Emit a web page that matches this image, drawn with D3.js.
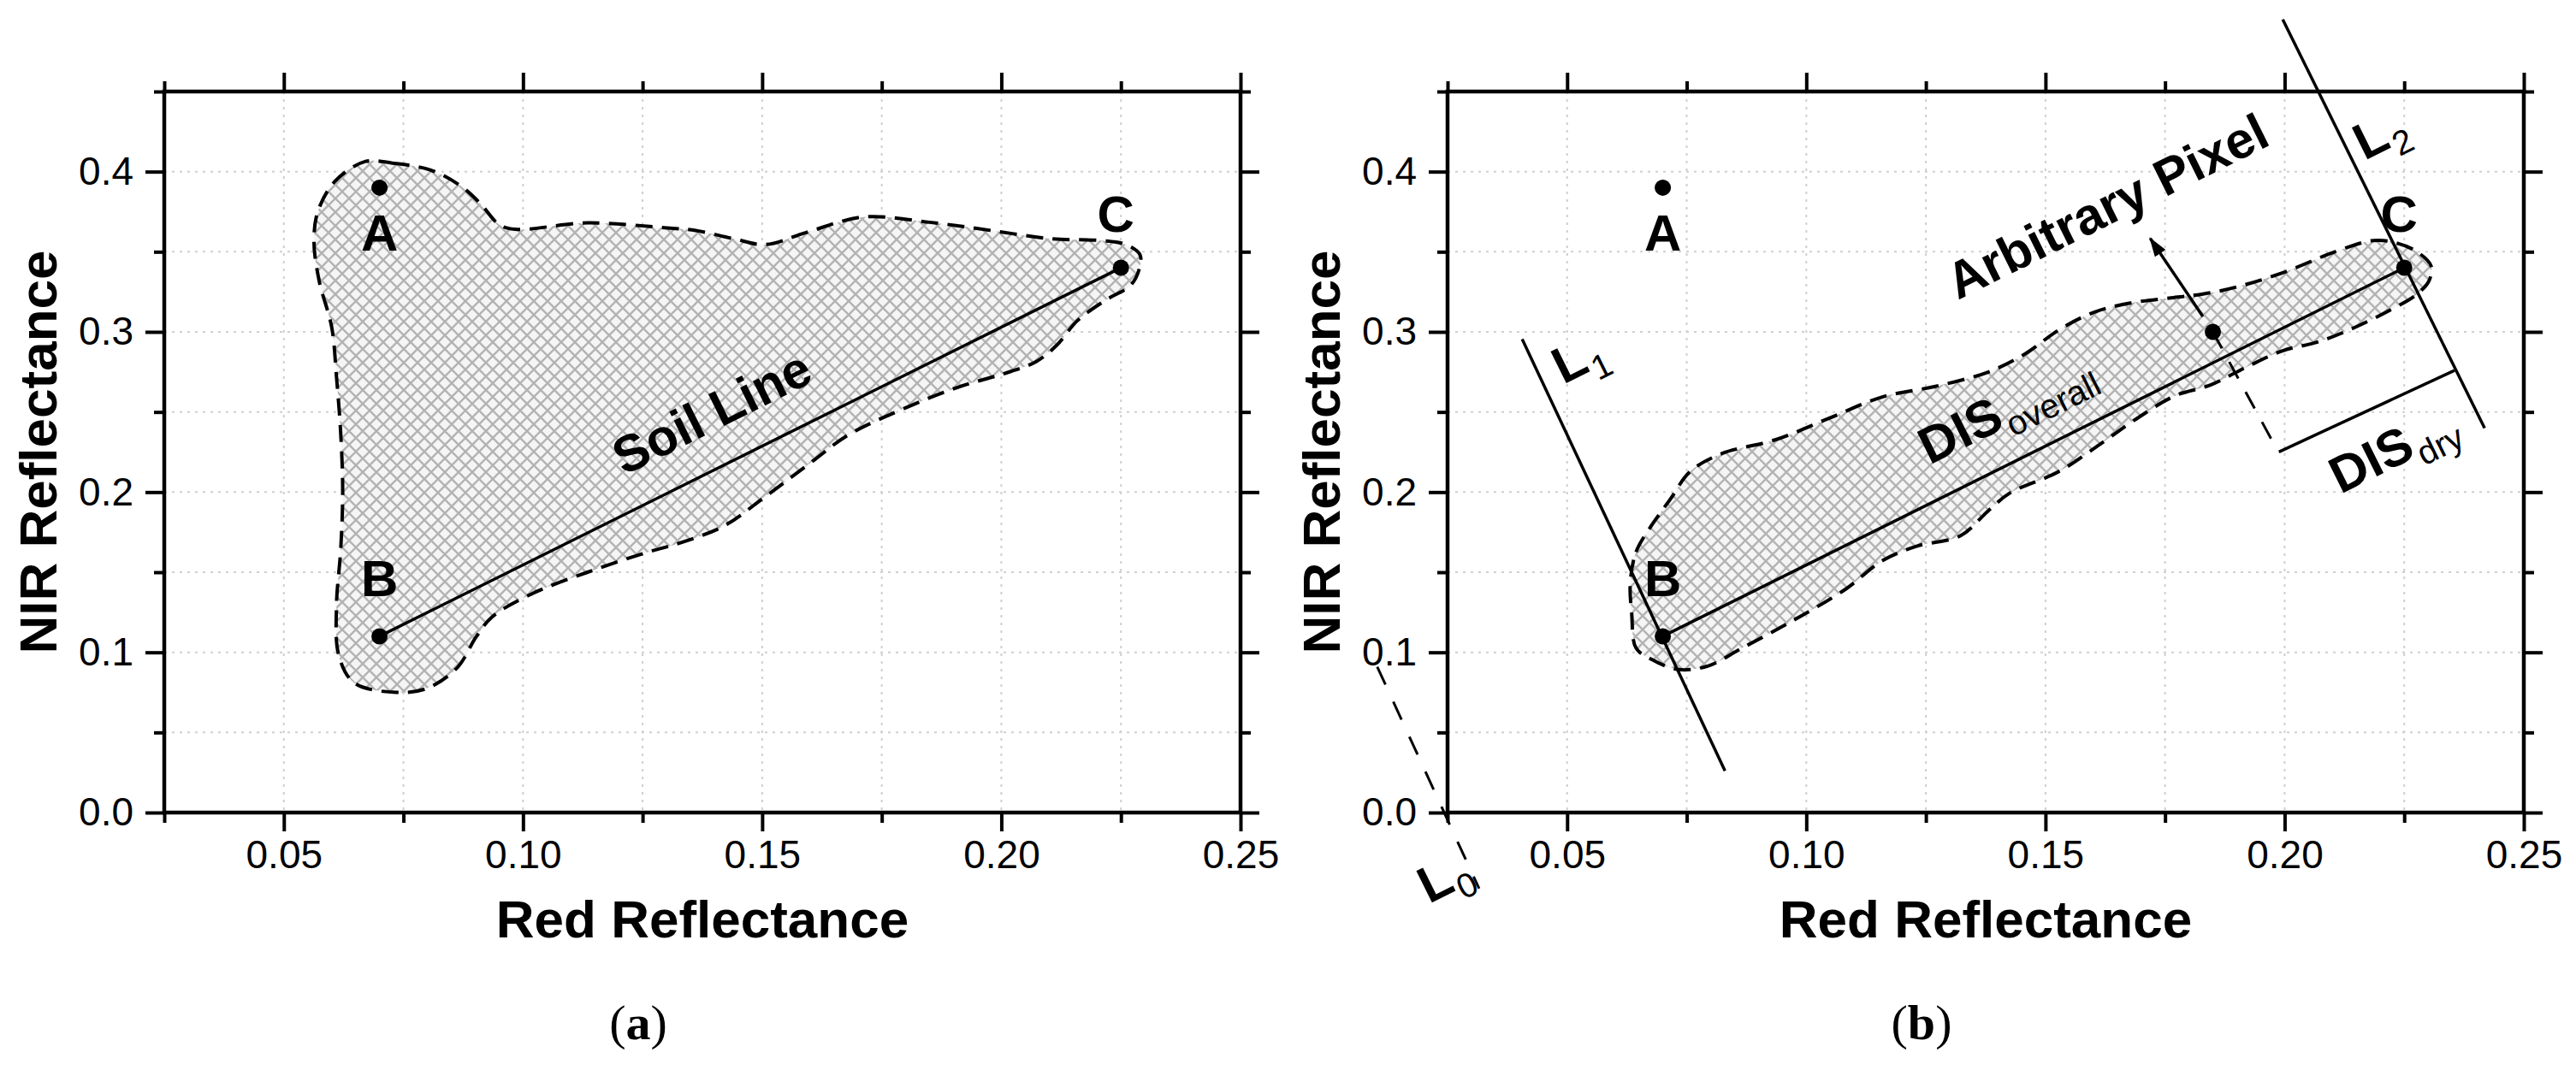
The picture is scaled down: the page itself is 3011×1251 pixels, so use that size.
<!DOCTYPE html>
<html>
<head>
<meta charset="utf-8">
<script src="https://cdn.jsdelivr.net/npm/d3@7"></script>
<style>
  body { margin: 0; background: #fff; }
  text { font-family: "Liberation Sans", Arial, Helvetica, sans-serif; fill: #000; }
</style>
</head>
<body>
<svg id="chart" width="3011" height="1251"></svg>
<script>
// values (Red reflectance, NIR reflectance)
const xMajorTicks = [0.05, 0.10, 0.15, 0.20, 0.25];
const xMinorTicks = [0.025, 0.075, 0.125, 0.175, 0.225];
const yMajorTicks = [0.0, 0.1, 0.2, 0.3, 0.4];
const yMinorTicks = [0.05, 0.15, 0.25, 0.35, 0.45];
const xGridValues = [0.05, 0.075, 0.10, 0.125, 0.15, 0.175, 0.20, 0.225];
const yGridValues = [0.05, 0.10, 0.15, 0.20, 0.25, 0.30, 0.35, 0.40];

const pointA = [0.07, 0.39];
const pointB = [0.07, 0.11];
const pointC = [0.225, 0.34];
const arbitraryPixel = [0.185, 0.30];

// outline of the pixel cloud in (a)
const regionA = [
    [0.0671, 0.4064], [0.0727, 0.4053], [0.0807, 0.4010], [0.0870, 0.3910], [0.0911, 0.3800],
    [0.0950, 0.3670], [0.0983, 0.3640], [0.1135, 0.3680], [0.1295, 0.3650], [0.1361, 0.3633],
    [0.1438, 0.3583], [0.1507, 0.3545], [0.1592, 0.3620], [0.1712, 0.3717], [0.1850, 0.3684],
    [0.1978, 0.3633], [0.2107, 0.3580], [0.2210, 0.3570], [0.2260, 0.3545], [0.2290, 0.3480],
    [0.2288, 0.3390], [0.2270, 0.3290], [0.2218, 0.3198], [0.2159, 0.3070], [0.2116, 0.2917],
    [0.2073, 0.2815], [0.2004, 0.2738], [0.1918, 0.2663], [0.1807, 0.2535], [0.1678, 0.2353],
    [0.1610, 0.2203], [0.1507, 0.1973], [0.1421, 0.1790], [0.1336, 0.1690], [0.1255, 0.1620],
    [0.1135, 0.1500], [0.1015, 0.1360], [0.0935, 0.1220], [0.0902, 0.1096], [0.0863, 0.0906],
    [0.0799, 0.0775], [0.0735, 0.0750], [0.0647, 0.0810], [0.0615, 0.0980], [0.0610, 0.1290],
    [0.0619, 0.1647], [0.0623, 0.2005], [0.0619, 0.2360], [0.0610, 0.2720], [0.0600, 0.3030],
    [0.0574, 0.3316], [0.0563, 0.3560], [0.0571, 0.3750], [0.0607, 0.3940]
];

// outline of the pixel cloud in (b)
const regionB = [
    [0.0632, 0.1433], [0.0644, 0.1626], [0.0676, 0.1790], [0.0716, 0.1957], [0.0757, 0.2128],
    [0.0823, 0.2240], [0.0935, 0.2326], [0.1047, 0.2460], [0.1159, 0.2594], [0.1270, 0.2660],
    [0.1380, 0.2749], [0.1456, 0.2860], [0.1530, 0.3016], [0.1604, 0.3125], [0.1678, 0.3180],
    [0.1767, 0.3214], [0.1827, 0.3235], [0.1897, 0.3278], [0.1996, 0.3369], [0.2108, 0.3503],
    [0.2185, 0.3570], [0.2230, 0.3558], [0.2275, 0.3503], [0.2306, 0.3412], [0.2302, 0.3320],
    [0.2275, 0.3231], [0.2223, 0.3140], [0.2147, 0.3028], [0.2071, 0.2938], [0.1996, 0.2882],
    [0.1920, 0.2780], [0.1845, 0.2668], [0.1770, 0.2600], [0.1694, 0.2465], [0.1618, 0.2307],
    [0.1528, 0.2128], [0.1425, 0.1993], [0.1380, 0.1882], [0.1322, 0.1727], [0.1232, 0.1663],
    [0.1159, 0.1572], [0.1083, 0.1396], [0.0972, 0.1198], [0.0861, 0.1019], [0.0795, 0.0915],
    [0.0732, 0.0893], [0.0676, 0.0957], [0.0644, 0.1027], [0.0635, 0.1240]
];

const lineL0 = [[0.0103, 0.091], [0.0316, -0.0475]];
const lineL1 = [[0.0406, 0.2955], [0.0830, 0.026]];
const lineL2 = [[0.1996, 0.495], [0.2418, 0.240]];
const pixelDrop = [[0.185, 0.30], [0.1985, 0.226]];
const disDryLine = [[0.1988, 0.2251], [0.2355, 0.2759]];
const pixelArrow = [[0.1829, 0.3096], [0.1719, 0.3583]];

// rotated annotations (anchor = start of baseline, in data units)
const annotationsA = [
    { pos: [0.1211, 0.2102], main: 'Soil Line', sub: '' }
];
const annotationsB = [
    { pos: [0.1317, 0.3198], main: 'Arbitrary Pixel', sub: '' },
    { pos: [0.1258, 0.2168], main: 'DIS', sub: 'overall' },
    { pos: [0.2117, 0.1986], main: 'DIS', sub: 'dry' },
    { pos: [0.0492, 0.2670], main: 'L', sub: '1' },
    { pos: [0.2167, 0.4068], main: 'L', sub: '2' },
    { pos: [0.0211, -0.0571], main: 'L', sub: '0' }
];

document.addEventListener("DOMContentLoaded", () => {
    const svg = d3.select('#chart');
    svg.append('rect').attr('width', 3011).attr('height', 1251).attr('fill', '#fff');

    const defs = svg.append('defs');
    const hatch = defs.append('pattern')
        .attr('id', 'hatch')
        .attr('patternUnits', 'userSpaceOnUse')
        .attr('width', 16)
        .attr('height', 16);
    hatch.append('rect').attr('width', 16).attr('height', 16).attr('fill', '#f5f5f5');
    hatch.append('path')
        .attr('d', 'M-2,-2L18,18M18,-2L-2,18')
        .attr('stroke', '#b3b3b3')
        .attr('stroke-width', 2.4);

    defs.append('marker')
        .attr('id', 'arrowhead')
        .attr('viewBox', '0 0 23 15')
        .attr('refX', 21)
        .attr('refY', 7.5)
        .attr('markerWidth', 23)
        .attr('markerHeight', 15)
        .attr('markerUnits', 'userSpaceOnUse')
        .attr('orient', 'auto')
        .append('path')
        .attr('d', 'M0,0L23,7.5L0,15z')
        .attr('fill', '#000');

    const plotW = 1258, top = 107, bottom = 950;

    function drawPanel(left, region, annotations, caption) {
        const g = svg.append('g');
        const x = d3.scaleLinear().domain([0.025, 0.25]).range([left, left + plotW]);
        const y = d3.scaleLinear().domain([0, 0.45]).range([bottom, top]);

        // dotted grid
        g.selectAll('.vgrid').data(xGridValues).join('line')
            .attr('x1', d => x(d)).attr('x2', d => x(d))
            .attr('y1', top).attr('y2', bottom)
            .attr('stroke', '#cfcfcf').attr('stroke-width', 2).attr('stroke-dasharray', '3,6');
        g.selectAll('.hgrid').data(yGridValues).join('line')
            .attr('x1', left).attr('x2', left + plotW)
            .attr('y1', d => y(d)).attr('y2', d => y(d))
            .attr('stroke', '#cfcfcf').attr('stroke-width', 2).attr('stroke-dasharray', '3,6');

        // pixel cloud
        const closed = d3.line().x(d => x(d[0])).y(d => y(d[1])).curve(d3.curveCatmullRomClosed.alpha(0.5));
        g.append('path')
            .datum(region)
            .attr('d', closed)
            .attr('fill', 'url(#hatch)')
            .attr('stroke', '#000')
            .attr('stroke-width', 4)
            .attr('stroke-dasharray', '20,11');

        const seg = d3.line().x(d => x(d[0])).y(d => y(d[1]));

        // soil line B -> C
        g.append('path').datum([pointB, pointC]).attr('d', seg)
            .attr('stroke', '#000').attr('stroke-width', 3.5).attr('fill', 'none');

        const angle = Math.atan2(y(pointC[1]) - y(pointB[1]), x(pointC[0]) - x(pointB[0])) * 180 / Math.PI;

        // axes
        const styleAxis = sel => {
            sel.select('.domain').remove();
            sel.selectAll('.tick line').attr('stroke', '#000').attr('stroke-width', 4);
            sel.selectAll('.tick text')
                .style('font-family', '"Liberation Sans", Arial, sans-serif')
                .attr('font-size', 46)
                .attr('fill', '#000');
        };
        g.append('g').attr('transform', `translate(0,${bottom})`)
            .call(d3.axisBottom(x).tickValues(xMajorTicks).tickSize(22).tickPadding(10).tickFormat(d3.format('.2f')))
            .call(styleAxis);
        g.append('g').attr('transform', `translate(0,${bottom})`)
            .call(d3.axisBottom(x).tickValues(xMinorTicks).tickSize(12).tickFormat(''))
            .call(styleAxis);
        g.append('g').attr('transform', `translate(0,${top})`)
            .call(d3.axisTop(x).tickValues(xMajorTicks).tickSize(22).tickFormat(''))
            .call(styleAxis);
        g.append('g').attr('transform', `translate(0,${top})`)
            .call(d3.axisTop(x).tickValues(xMinorTicks).tickSize(12).tickFormat(''))
            .call(styleAxis);
        g.append('g').attr('transform', `translate(${left},0)`)
            .call(d3.axisLeft(y).tickValues(yMajorTicks).tickSize(22).tickPadding(14).tickFormat(d3.format('.1f')))
            .call(styleAxis);
        g.append('g').attr('transform', `translate(${left},0)`)
            .call(d3.axisLeft(y).tickValues(yMinorTicks).tickSize(12).tickFormat(''))
            .call(styleAxis);
        g.append('g').attr('transform', `translate(${left + plotW},0)`)
            .call(d3.axisRight(y).tickValues(yMajorTicks).tickSize(22).tickFormat(''))
            .call(styleAxis);
        g.append('g').attr('transform', `translate(${left + plotW},0)`)
            .call(d3.axisRight(y).tickValues(yMinorTicks).tickSize(12).tickFormat(''))
            .call(styleAxis);

        g.append('rect')
            .attr('x', left).attr('y', top)
            .attr('width', plotW).attr('height', bottom - top)
            .attr('fill', 'none').attr('stroke', '#000').attr('stroke-width', 4.5);

        // axis titles
        g.append('text')
            .attr('x', left + plotW / 2)
            .attr('y', 1096)
            .attr('text-anchor', 'middle')
            .attr('font-size', 62)
            .attr('font-weight', 'bold')
            .text('Red Reflectance');
        g.append('text')
            .attr('transform', `translate(${left - 126},${(top + bottom) / 2}) rotate(-90)`)
            .attr('text-anchor', 'middle')
            .attr('font-size', 62)
            .attr('font-weight', 'bold')
            .text('NIR Reflectance');

        // caption
        const cap = g.append('text')
            .attr('x', left + plotW / 2 - 75)
            .attr('y', 1215)
            .attr('text-anchor', 'middle')
            .attr('font-size', 58)
            .style('font-family', '"Liberation Serif", "Times New Roman", serif');
        cap.append('tspan').text('(');
        cap.append('tspan').attr('font-weight', 'bold').text(caption);
        cap.append('tspan').text(')');

        // labelled points
        const pts = [
            { p: pointA, label: 'A', dx: 0, dy: 74 },
            { p: pointB, label: 'B', dx: 0, dy: -47 },
            { p: pointC, label: 'C', dx: -6, dy: -42 }
        ];
        g.selectAll('.pt').data(pts).join('circle')
            .attr('cx', d => x(d.p[0])).attr('cy', d => y(d.p[1]))
            .attr('r', 9.5).attr('fill', '#000');
        g.selectAll('.ptlabel').data(pts).join('text')
            .attr('x', d => x(d.p[0]) + d.dx)
            .attr('y', d => y(d.p[1]) + d.dy)
            .attr('text-anchor', 'middle')
            .attr('font-size', 60)
            .attr('font-weight', 'bold')
            .text(d => d.label);

        // rotated annotations
        annotations.forEach(a => {
            const t = g.append('text')
                .attr('transform', `translate(${x(a.pos[0])},${y(a.pos[1])}) rotate(${angle})`)
                .attr('font-size', 60)
                .attr('font-weight', 'bold');
            t.append('tspan').text(a.main);
            if (a.sub) {
                t.append('tspan')
                    .attr('dy', 14)
                    .attr('dx', 2)
                    .attr('font-size', 40)
                    .attr('font-weight', 'normal')
                    .text(a.sub);
            }
        });

        return { g, x, y, seg };
    }

    drawPanel(192, regionA, annotationsA, 'a');
    const pb = drawPanel(1692, regionB, annotationsB, 'b');

    // extra construction lines of panel (b)
    pb.g.append('path').datum(lineL1).attr('d', pb.seg)
        .attr('stroke', '#000').attr('stroke-width', 3.5).attr('fill', 'none');
    pb.g.append('path').datum(lineL2).attr('d', pb.seg)
        .attr('stroke', '#000').attr('stroke-width', 3.5).attr('fill', 'none');
    pb.g.append('path').datum(lineL0).attr('d', pb.seg)
        .attr('stroke', '#000').attr('stroke-width', 3).attr('fill', 'none')
        .attr('stroke-dasharray', '23,22');
    pb.g.append('path').datum(pixelDrop).attr('d', pb.seg)
        .attr('stroke', '#000').attr('stroke-width', 3).attr('fill', 'none')
        .attr('stroke-dasharray', '22,18');
    pb.g.append('path').datum(disDryLine).attr('d', pb.seg)
        .attr('stroke', '#000').attr('stroke-width', 3.5).attr('fill', 'none');
    pb.g.append('path').datum(pixelArrow).attr('d', pb.seg)
        .attr('stroke', '#000').attr('stroke-width', 3.5).attr('fill', 'none')
        .attr('marker-end', 'url(#arrowhead)');
    pb.g.append('circle')
        .attr('cx', pb.x(arbitraryPixel[0])).attr('cy', pb.y(arbitraryPixel[1]))
        .attr('r', 9.5).attr('fill', '#000');
});
</script>
</body>
</html>
